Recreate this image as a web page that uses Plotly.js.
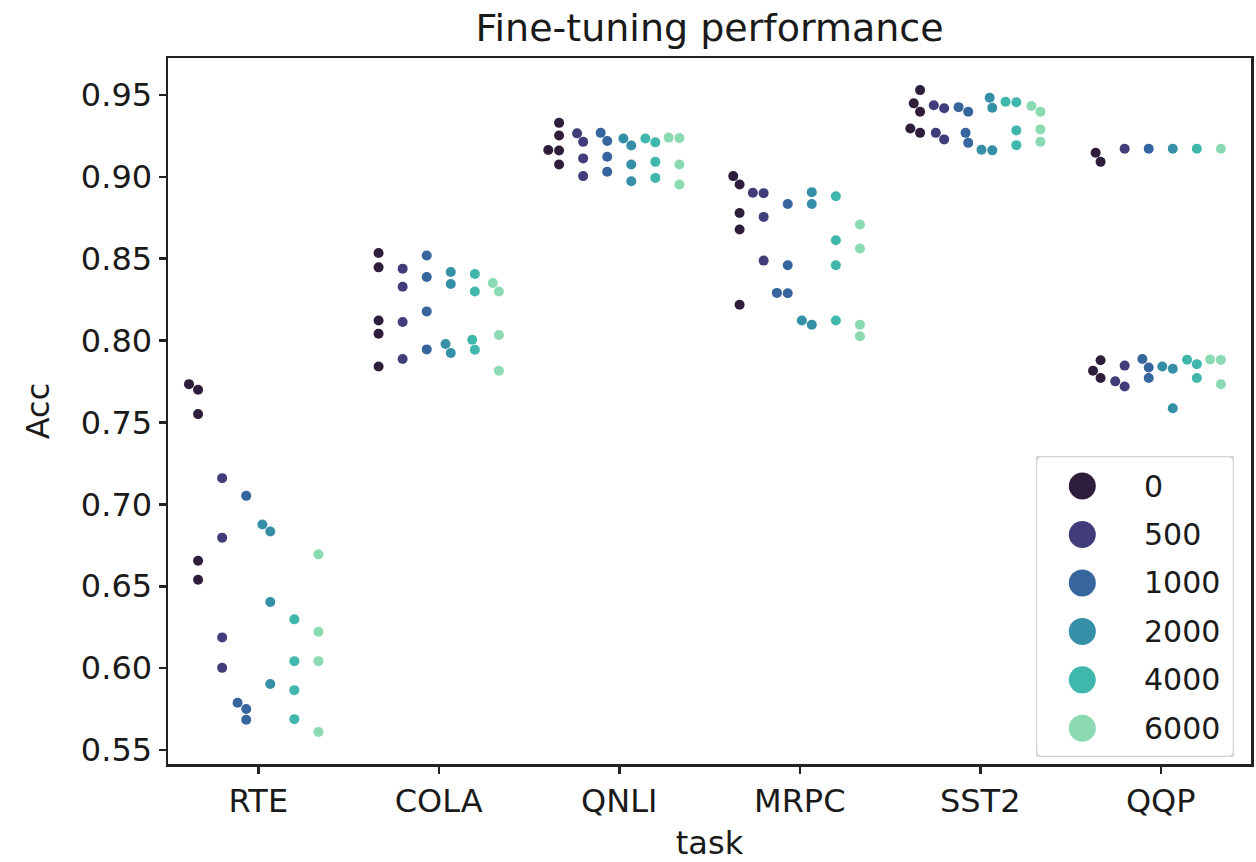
<!DOCTYPE html>
<html><head><meta charset="utf-8">
<script src="https://cdn.plot.ly/plotly-3.0.1.min.js"></script>
<style>html,body{margin:0;padding:0;background:#fff;} #chart{width:1256px;height:862px;}</style>
</head><body><div id="chart"></div>
<script>
// ---- data ----
const tasks = ['RTE', 'COLA', 'QNLI', 'MRPC', 'SST2', 'QQP'];
const steps = [0, 500, 1000, 2000, 4000, 6000];
const colors = ['#2e1e3b', '#413d7b', '#37659e', '#348fa7', '#40b7ad', '#8bdab2'];

// accuracy per task (order of tasks) for each number of steps
const acc0 = [
  [0.7734, 0.7700, 0.7551, 0.6656, 0.6540],
  [0.8535, 0.8447, 0.8122, 0.8042, 0.7842],
  [0.9329, 0.9252, 0.9163, 0.9160, 0.9075],
  [0.9004, 0.8953, 0.8779, 0.8678, 0.8219],
  [0.9529, 0.9448, 0.9397, 0.9295, 0.9268],
  [0.9147, 0.9091, 0.7880, 0.7816, 0.7771]
];
const acc500 = [
  [0.7160, 0.6797, 0.6188, 0.6002],
  [0.8439, 0.8329, 0.8113, 0.7887],
  [0.9265, 0.9213, 0.9112, 0.9004],
  [0.8902, 0.8900, 0.8755, 0.8488],
  [0.9436, 0.9418, 0.9268, 0.9228],
  [0.9171, 0.7847, 0.7751, 0.7720]
];
const acc1000 = [
  [0.7052, 0.5789, 0.5751, 0.5685],
  [0.8519, 0.8388, 0.8178, 0.7946],
  [0.9268, 0.9218, 0.9122, 0.9030],
  [0.8834, 0.8460, 0.8291, 0.8289],
  [0.9425, 0.9397, 0.9268, 0.9207],
  [0.9171, 0.7887, 0.7836, 0.7771]
];
const acc2000 = [
  [0.6877, 0.6834, 0.6404, 0.5903],
  [0.8419, 0.8345, 0.7979, 0.7924],
  [0.9234, 0.9191, 0.9075, 0.8973],
  [0.8906, 0.8834, 0.8122, 0.8097],
  [0.9482, 0.9421, 0.9165, 0.9161],
  [0.9171, 0.7842, 0.7828, 0.7587]
];
const acc4000 = [
  [0.6298, 0.6043, 0.5866, 0.5689],
  [0.8406, 0.8299, 0.8005, 0.7944],
  [0.9234, 0.9210, 0.9091, 0.8993],
  [0.8881, 0.8612, 0.8460, 0.8122],
  [0.9458, 0.9455, 0.9283, 0.9193],
  [0.9171, 0.7883, 0.7856, 0.7771]
];
const acc6000 = [
  [0.6695, 0.6222, 0.6043, 0.5611],
  [0.8351, 0.8299, 0.8034, 0.7816],
  [0.9239, 0.9237, 0.9075, 0.8953],
  [0.8708, 0.8562, 0.8097, 0.8026],
  [0.9432, 0.9397, 0.9289, 0.9213],
  [0.9171, 0.7884, 0.7882, 0.7734]
];
const accBySteps = [acc0, acc500, acc1000, acc2000, acc4000, acc6000];

// ---- layout geometry ----
const W = 1256, H = 862;
const margin = {l: 168, r: 5, t: 58, b: 98, pad: 0};
const plotW = W - margin.l - margin.r;
const plotH = H - margin.t - margin.b;
const FONT = 'DejaVu Sans, sans-serif';
const INK = '#1a1a1a';
const TICK_SIZE = 32;
const LEG_SIZE = 30;

// y limits with 5% margins (matplotlib-style autoscale)
const allVals = [].concat(...accBySteps.map(a => [].concat(...a)));
const lo = Math.min(...allVals), hi = Math.max(...allVals);
const padY = 0.05 * (hi - lo);
const yRange = [lo - padY, hi + padY];
const xRange = [-0.5, tasks.length - 0.5];
const pxPerY = plotH / (yRange[1] - yRange[0]);
const pxPerX = plotW / (xRange[1] - xRange[0]);
const R = 5.15; // swarm point radius (px)

// seaborn-style beeswarm: returns horizontal offsets in px
function swarm(vals) {
  const idx = vals.map((v, i) => i).sort((a, b) => vals[a] - vals[b]);
  const placed = [];
  const out = new Array(vals.length).fill(0);
  idx.forEach((i) => {
    const y = vals[i] * pxPerY;
    const nb = [];
    for (let j = placed.length - 1; j >= 0; j--) {
      if (y - placed[j].y < 2 * R) nb.unshift(placed[j]); else break;
    }
    let cands = [0]; let left = true;
    nb.forEach(p => {
      const dy = y - p.y;
      const dx = Math.sqrt(Math.max(4 * R * R - dy * dy, 0)) * 1.05;
      const cl = p.x - dx, cr = p.x + dx;
      if (left) cands.push(cl, cr); else cands.push(cr, cl);
      left = !left;
    });
    cands = cands.map((c, ci) => ({c, ci}))
      .sort((a, b) => (Math.abs(a.c) - Math.abs(b.c)) || (a.ci - b.ci))
      .map(o => o.c);
    let chosen = 0;
    for (const c of cands) {
      if (nb.every(p => (p.x - c) ** 2 + (p.y - y) ** 2 >= 4 * R * R - 1e-6)) { chosen = c; break; }
    }
    placed.push({x: chosen, y});
    out[i] = chosen;
  });
  return out;
}

const dodgeW = 0.8;
const traces = [];
steps.forEach((s, si) => {
  const dodge = -dodgeW / 2 + dodgeW / steps.length * (si + 0.5);
  const xs = [], ys = [];
  tasks.forEach((t, ti) => {
    const vals = accBySteps[si][ti];
    const offs = swarm(vals);
    vals.forEach((v, k) => { xs.push(ti + dodge + offs[k] / pxPerX); ys.push(v); });
  });
  traces.push({
    type: 'scatter', mode: 'markers', x: xs, y: ys, name: String(s),
    marker: {color: colors[si], size: 10, line: {width: 0}},
    showlegend: false, hoverinfo: 'skip'
  });
});

// ---- custom legend (large markers) on a helper axis pair ----
const legBox = {left: 1036, right: 1234, top: 456, bottom: 757};
const rowTop = 486, rowGap = 48.46, markerX = 1082.3, labelX = 1141.7;
const plotBottom = H - margin.b;
traces.push({
  type: 'scatter', mode: 'markers', xaxis: 'x2', yaxis: 'y2',
  x: steps.map(() => 0), y: steps.map((s, i) => i),
  marker: {color: colors, size: 27, line: {width: 0}},
  showlegend: false, hoverinfo: 'skip'
});
const annotations = steps.map((s, i) => ({
  xref: 'x2', yref: 'y2', x: labelX - markerX, y: i, text: String(s),
  xanchor: 'left', yanchor: 'middle', showarrow: false,
  font: {family: FONT, size: LEG_SIZE, color: INK}
}));

// rounded legend frame, in helper-axis units (x: px, y: rows)
const bx0 = legBox.left - markerX, bx1 = legBox.right - markerX;
const by0 = (legBox.top - rowTop) / rowGap, by1 = (legBox.bottom - rowTop) / rowGap;
const rx = 6, ry = 6 / rowGap;
const framePath = `M ${bx0 + rx} ${by0} L ${bx1 - rx} ${by0} Q ${bx1} ${by0} ${bx1} ${by0 + ry} ` +
  `L ${bx1} ${by1 - ry} Q ${bx1} ${by1} ${bx1 - rx} ${by1} L ${bx0 + rx} ${by1} Q ${bx0} ${by1} ${bx0} ${by1 - ry} ` +
  `L ${bx0} ${by0 + ry} Q ${bx0} ${by0} ${bx0 + rx} ${by0} Z`;

const axisCommon = {
  showline: true, mirror: true, linecolor: '#222', linewidth: 2.5,
  ticks: 'outside', ticklen: 7, tickwidth: 2.5, tickcolor: '#222',
  showgrid: false, zeroline: false,
  tickfont: {family: FONT, size: TICK_SIZE, color: INK}
};

const layout = {
  width: W, height: H, margin: margin,
  paper_bgcolor: '#fff', plot_bgcolor: '#fff',
  showlegend: false,
  title: {text: 'Fine-tuning performance', font: {family: FONT, size: 38, color: INK},
          xref: 'paper', x: 0.5, xanchor: 'center', yref: 'container', y: 1 - 28 / H, yanchor: 'middle'},
  xaxis: Object.assign({}, axisCommon, {
    range: xRange, tickmode: 'array', tickvals: tasks.map((t, i) => i), ticktext: tasks,
    title: {text: 'task', font: {family: FONT, size: TICK_SIZE, color: INK}, standoff: 23}
  }),
  yaxis: Object.assign({}, axisCommon, {
    range: yRange, tick0: 0, dtick: 0.05, tickformat: '.2f',
    title: {text: 'Acc', font: {family: FONT, size: TICK_SIZE, color: INK}, standoff: 22}
  }),
  xaxis2: {domain: [(legBox.left - margin.l) / plotW, (legBox.right - margin.l) / plotW],
           range: [bx0, bx1], visible: false, anchor: 'y2', fixedrange: true},
  yaxis2: {domain: [(plotBottom - legBox.bottom) / plotH, (plotBottom - legBox.top) / plotH],
           range: [by1, by0], visible: false, anchor: 'x2', fixedrange: true},
  shapes: [{type: 'path', xref: 'x2', yref: 'y2', path: framePath,
            line: {color: '#d4d4d4', width: 2.5}, fillcolor: '#ffffff', layer: 'below'}],
  annotations: annotations
};

Plotly.newPlot('chart', traces, layout, {displayModeBar: false, staticPlot: true});
</script>
</body></html>
